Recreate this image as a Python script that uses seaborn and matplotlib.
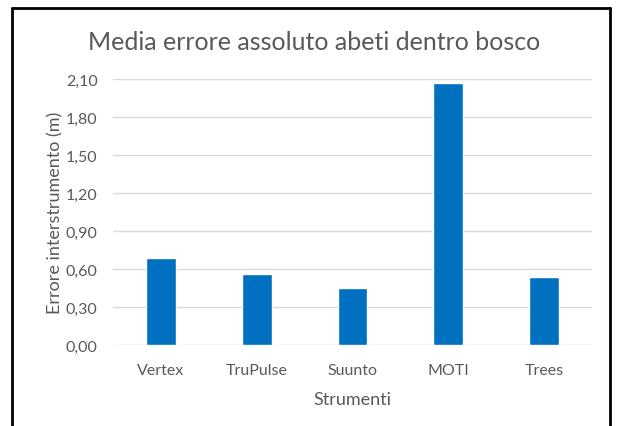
import matplotlib
matplotlib.use("Agg")
import matplotlib.pyplot as plt
import seaborn as sns
import pandas as pd
from matplotlib.lines import Line2D

categories = ["Vertex", "TruPulse", "Suunto", "MOTI", "Trees"]
values = [0.685, 0.56, 0.45, 2.07, 0.54]
yticks = [0.0, 0.3, 0.6, 0.9, 1.2, 1.5, 1.8, 2.1]
ytick_labels = ["0,00", "0,30", "0,60", "0,90", "1,20", "1,50", "1,80", "2,10"]
title = "Media errore assoluto abeti dentro bosco"
xlabel = "Strumenti"
ylabel = "Errore interstrumento (m)"

sns.set_theme(style="white")
plt.rcParams['font.family'] = ['Lato', 'DejaVu Sans']

df = pd.DataFrame({"cat": categories, "val": values})

W, H = 617, 427
fig = plt.figure(figsize=(W / 100, H / 100), dpi=100)
ax = fig.add_axes([113 / W, 1 - 346 / H, (592 - 113) / W, (346 - 80) / H])

sns.barplot(data=df, x="cat", y="val", color="#0070C0", width=0.31,
            saturation=1, ax=ax, zorder=3)

ax.set_ylim(0, 2.1)
ax.set_xlim(-0.5, 4.5)
ax.set_yticks(yticks)
ax.set_yticklabels(ytick_labels)
ax.yaxis.grid(True, color="#d9d9d9", linewidth=1)
ax.set_axisbelow(True)
for s in ax.spines.values():
    s.set_visible(False)
ax.tick_params(axis="both", length=0, colors="#595959", labelsize=11.5)
ax.tick_params(axis="y", pad=11)
ax.tick_params(axis="x", pad=13)
ax.set_xlabel(xlabel, color="#595959", fontsize=13, labelpad=10)
ax.set_ylabel(ylabel, color="#595959", fontsize=13, labelpad=2)

fig.text(314 / W, 1 - 42 / H, title, ha="center", va="center",
         fontsize=18, color="#595959")

# figure border (open at bottom)
lw = 2
kw = dict(transform=fig.transFigure, color="black", linewidth=lw, clip_on=False)
fig.add_artist(Line2D([12 / W, 12 / W], [0, 1 - 9 / H], **kw))
fig.add_artist(Line2D([12 / W, 610 / W], [1 - 9 / H, 1 - 9 / H], **kw))
fig.add_artist(Line2D([610 / W, 610 / W], [0, 1 - 9 / H], **kw))

fig.savefig("out.png", dpi=100, facecolor="white")
